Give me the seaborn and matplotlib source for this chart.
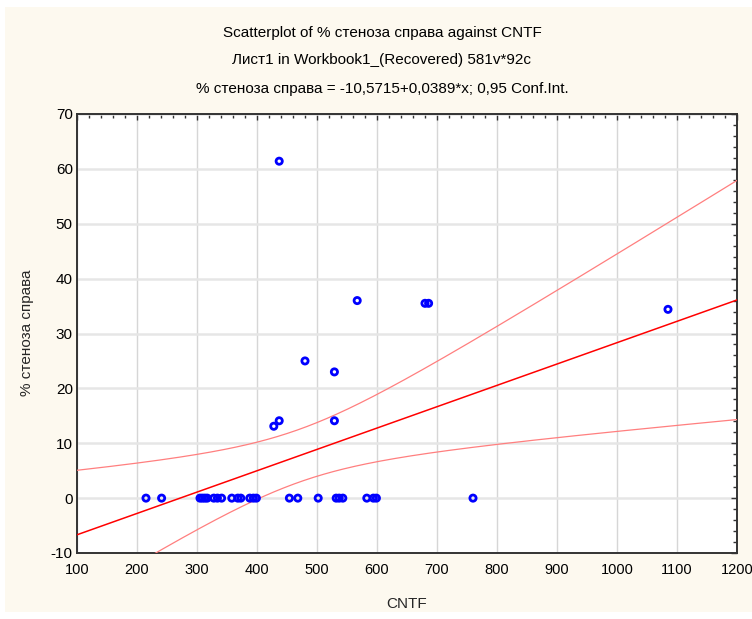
import numpy as np
import pandas as pd
import matplotlib
matplotlib.use("Agg")
import matplotlib.pyplot as plt
import seaborn as sns
from matplotlib.patches import Rectangle
from matplotlib.ticker import MultipleLocator
from matplotlib import font_manager

# Observations: CNTF level vs. right-side stenosis (%)
cntf = [215, 241, 305, 309, 313, 317, 328, 334, 341, 358, 368, 373,
        388, 394, 399, 454, 468, 502, 532, 537, 543, 583, 594, 599, 760,
        437, 567, 680, 686, 480, 529, 529, 437, 428, 1085]
stenosis = [0, 0, 0, 0, 0, 0, 0, 0, 0, 0, 0, 0,
            0, 0, 0, 0, 0, 0, 0, 0, 0, 0, 0, 0, 0,
            61.4, 36.0, 35.5, 35.5, 25.0, 23.0, 14.1, 14.1, 13.1, 34.4]

# Fitted model reported in the header
intercept = -10.5715
slope = 0.0389
t_crit = 2.0345  # Student t, 0.975 quantile, df = n - 2 = 33

x_ticks = list(range(100, 1201, 100))
y_ticks = list(range(-10, 71, 10))

df = pd.DataFrame({"CNTF": cntf, "stenosis": stenosis})

sns.set_theme(style="white")
names = {f.name for f in font_manager.fontManager.ttflist}
narrow = "Liberation Sans Narrow" if "Liberation Sans Narrow" in names else "Liberation Sans"
plt.rcParams["font.family"] = ["Liberation Sans", "DejaVu Sans"]
plt.rcParams["axes.unicode_minus"] = False

W, H = 752, 619
fig = plt.figure(figsize=(W / 100, H / 100), dpi=100)
fig.patch.set_facecolor("white")
fig.add_artist(Rectangle((5 / W, 1 - 612 / H), (W - 5) / W, (612 - 7) / H,
                         transform=fig.transFigure, facecolor="#FDF9EF",
                         edgecolor="none", zorder=-10))

ax = fig.add_axes([77 / W, 1 - 553 / H, (737 - 77) / W, (553 - 114) / H])
ax.set_facecolor("white")

# Regression line and 95% confidence band around the mean response
x = np.asarray(cntf, float)
y = np.asarray(stenosis, float)
n = len(x)
resid = y - (intercept + slope * x)
s = np.sqrt(np.sum(resid ** 2) / (n - 2))
xm = x.mean()
sxx = np.sum((x - xm) ** 2)
xs = np.linspace(x_ticks[0], x_ticks[-1], 400)
fit = intercept + slope * xs
half = t_crit * s * np.sqrt(1 / n + (xs - xm) ** 2 / sxx)

ax.plot(xs, fit, color="#FF0000", lw=1.1, zorder=3)
ax.plot(xs, fit + half, color="#FF7F7F", lw=0.9, zorder=3)
ax.plot(xs, fit - half, color="#FF7F7F", lw=0.9, zorder=3)

sns.scatterplot(data=df, x="CNTF", y="stenosis", ax=ax, marker="o", s=20,
                facecolor="none", edgecolor="#0000FF", linewidth=2.0,
                zorder=4, legend=False)

ax.set_xlim(x_ticks[0], x_ticks[-1])
ax.set_ylim(y_ticks[0], y_ticks[-1])
ax.set_xticks(x_ticks)
ax.set_yticks(y_ticks)
ax.xaxis.set_minor_locator(MultipleLocator(20))
ax.yaxis.set_minor_locator(MultipleLocator(2))
ax.tick_params(which="both", direction="in", top=True, right=True,
               color="#333333", width=1.0)
ax.tick_params(which="major", length=4, labelcolor="black")
ax.tick_params(axis="x", which="major", pad=7)
ax.tick_params(axis="y", which="major", pad=3)
ax.tick_params(which="minor", length=3)
for lab in ax.get_xticklabels():
    lab.set_fontfamily(narrow)
    lab.set_fontsize(10.5)
for lab in ax.get_yticklabels():
    lab.set_fontfamily(narrow)
    lab.set_fontsize(11)

ax.xaxis.grid(True, color="#D6D6D6", lw=1.0, zorder=0)
ax.yaxis.grid(True, color="#E6E6E6", lw=1.8, zorder=0)
ax.set_axisbelow(True)
for sp in ax.spines.values():
    sp.set_color("#333333")
    sp.set_linewidth(1.4)
ax.set_xlabel("")
ax.set_ylabel("")

title_kw = dict(ha="center", va="center", fontsize=11, family=narrow, color="black")
fig.text(382 / W, 1 - 33 / H, "Scatterplot of % стеноза справа against CNTF", **title_kw)
fig.text(382 / W, 1 - 60 / H, "Лист1 in Workbook1_(Recovered) 581v*92c", **title_kw)
header = f"% стеноза справа = {intercept:.4f}+{slope:.4f}*x; 0,95 Conf.Int."
fig.text(382 / W, 1 - 89 / H,
         header.replace(f"{intercept:.4f}", f"{intercept:.4f}".replace(".", ","))
               .replace(f"{slope:.4f}", f"{slope:.4f}".replace(".", ",")),
         **title_kw)

fig.text(407 / W, 1 - 604 / H, "CNTF", ha="center", va="center", fontsize=11, family=narrow)
fig.text(27 / W, 1 - 333 / H, "% стеноза справа", ha="center", va="center",
         rotation=90, fontsize=11, family=narrow)

fig.savefig("out.png", dpi=100, facecolor=fig.get_facecolor())
